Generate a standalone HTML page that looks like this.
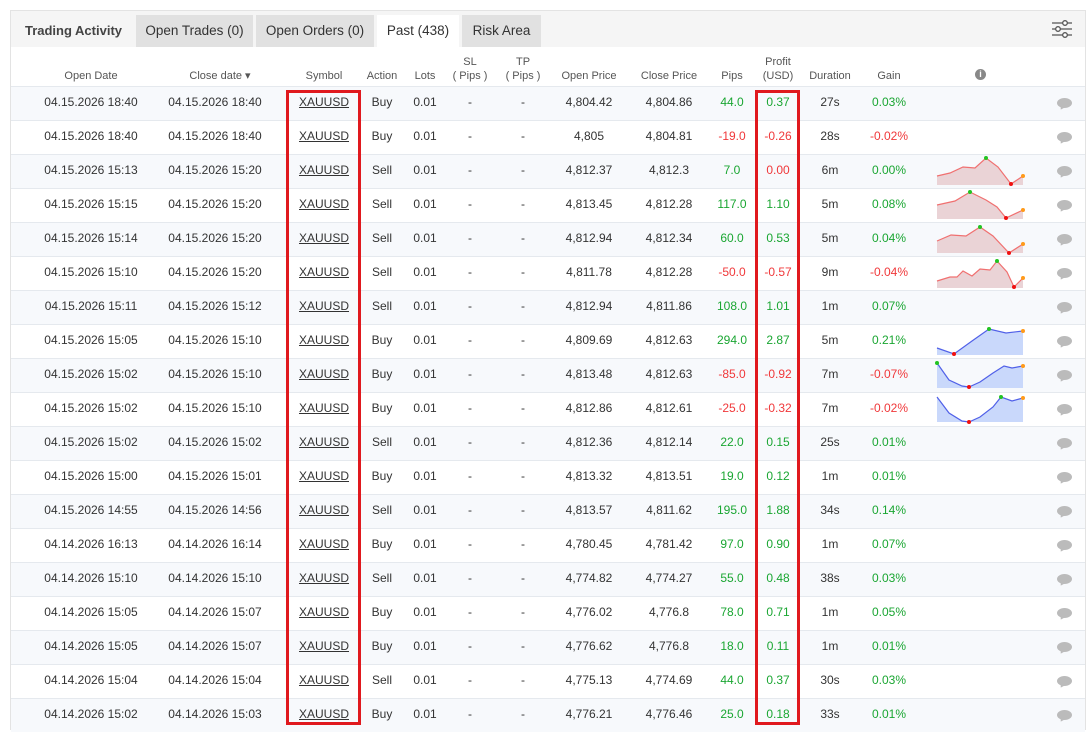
<!DOCTYPE html>
<html><head><meta charset="utf-8"><style>
*{margin:0;padding:0;box-sizing:border-box}
body{width:1086px;height:727px;background:#fff;font-family:"Liberation Sans",sans-serif;position:relative;overflow:hidden;color:#333}
.panel{position:absolute;left:10px;top:10px;width:1076px;height:720px;border:1px solid #e3e3e3;background:#fff}
.tabbar{position:absolute;left:11px;top:11px;width:1074px;height:36px;background:#f5f5f5}
.tab{position:absolute;top:15px;height:32px;line-height:31px;font-size:13.5px;text-align:center;color:#333}
.t{position:absolute;font-size:12px;text-align:center;transform:translateX(-50%);white-space:nowrap}
.h{position:absolute;font-size:11px;color:#555;text-align:center;transform:translateX(-50%);line-height:14px;white-space:nowrap}
.row{position:absolute;left:11px;width:1074px;height:34px;border-top:1px solid #e5e9ee}
.g{color:#1aa632}.r{color:#f0383a}
u{text-decoration:underline}
.box{position:absolute;border:3px solid #e0191e}
</style></head><body>
<div class="panel"></div>
<div class="tabbar"></div>
<div class="tab" style="left:11px;width:125px;font-weight:bold;color:#444;background:#f5f5f5;font-size:13px">Trading Activity</div>
<div class="tab" style="left:136px;width:117px;background:#e1e1e1">Open Trades (0)</div>
<div class="tab" style="left:256px;width:118px;background:#e1e1e1">Open Orders (0)</div>
<div class="tab" style="left:377px;width:82px;background:#fff">Past (438)</div>
<div class="tab" style="left:462px;width:79px;background:#e1e1e1">Risk Area</div>
<svg style="position:absolute;left:1051px;top:19px" width="22" height="20" viewBox="0 0 22 20" fill="none" stroke="#555" stroke-width="1.3"><line x1="1" y1="4" x2="21" y2="4"/><line x1="1" y1="10" x2="21" y2="10"/><line x1="1" y1="16" x2="21" y2="16"/><circle cx="14" cy="4" r="2.3" fill="#fff"/><circle cx="7" cy="10" r="2.3" fill="#fff"/><circle cx="14" cy="16" r="2.3" fill="#fff"/></svg>
<div id="c"></div>
<script>
var hd=[[91,'Open Date'],[220,'Close date ▾'],[324,'Symbol'],[382,'Action'],[425,'Lots'],[470,'SL<br>( Pips )'],[523,'TP<br>( Pips )'],[589,'Open Price'],[669,'Close Price'],[732,'Pips'],[778,'Profit<br>(USD)'],[830,'Duration'],[889,'Gain']];
var s='';
hd.forEach(function(h){var two=h[1].indexOf('<br>')>0;s+='<div class="h" style="left:'+h[0]+'px;top:'+(two?55:69)+'px">'+h[1]+'</div>';});
s+='<div style="position:absolute;left:975px;top:69px;width:11px;height:11px;border-radius:50%;background:#888;color:#fff;font-size:9px;font-weight:bold;text-align:center;line-height:11px">i</div>';
var d=[
['04.15.2026 18:40','04.15.2026 18:40','Buy','4,804.42','4,804.86','44.0','0.37','27s','0.03%','g','g'],
['04.15.2026 18:40','04.15.2026 18:40','Buy','4,805','4,804.81','-19.0','-0.26','28s','-0.02%','r','r'],
['04.15.2026 15:13','04.15.2026 15:20','Sell','4,812.37','4,812.3','7.0','0.00','6m','0.00%','g','r','g'],
['04.15.2026 15:15','04.15.2026 15:20','Sell','4,813.45','4,812.28','117.0','1.10','5m','0.08%','g','g'],
['04.15.2026 15:14','04.15.2026 15:20','Sell','4,812.94','4,812.34','60.0','0.53','5m','0.04%','g','g'],
['04.15.2026 15:10','04.15.2026 15:20','Sell','4,811.78','4,812.28','-50.0','-0.57','9m','-0.04%','r','r'],
['04.15.2026 15:11','04.15.2026 15:12','Sell','4,812.94','4,811.86','108.0','1.01','1m','0.07%','g','g'],
['04.15.2026 15:05','04.15.2026 15:10','Buy','4,809.69','4,812.63','294.0','2.87','5m','0.21%','g','g'],
['04.15.2026 15:02','04.15.2026 15:10','Buy','4,813.48','4,812.63','-85.0','-0.92','7m','-0.07%','r','r'],
['04.15.2026 15:02','04.15.2026 15:10','Buy','4,812.86','4,812.61','-25.0','-0.32','7m','-0.02%','r','r'],
['04.15.2026 15:02','04.15.2026 15:02','Sell','4,812.36','4,812.14','22.0','0.15','25s','0.01%','g','g'],
['04.15.2026 15:00','04.15.2026 15:01','Buy','4,813.32','4,813.51','19.0','0.12','1m','0.01%','g','g'],
['04.15.2026 14:55','04.15.2026 14:56','Sell','4,813.57','4,811.62','195.0','1.88','34s','0.14%','g','g'],
['04.14.2026 16:13','04.14.2026 16:14','Buy','4,780.45','4,781.42','97.0','0.90','1m','0.07%','g','g'],
['04.14.2026 15:10','04.14.2026 15:10','Sell','4,774.82','4,774.27','55.0','0.48','38s','0.03%','g','g'],
['04.14.2026 15:05','04.14.2026 15:07','Buy','4,776.02','4,776.8','78.0','0.71','1m','0.05%','g','g'],
['04.14.2026 15:05','04.14.2026 15:07','Buy','4,776.62','4,776.8','18.0','0.11','1m','0.01%','g','g'],
['04.14.2026 15:04','04.14.2026 15:04','Sell','4,775.13','4,774.69','44.0','0.37','30s','0.03%','g','g'],
['04.14.2026 15:02','04.14.2026 15:03','Buy','4,776.21','4,776.46','25.0','0.18','33s','0.01%','g','g']];
d.forEach(function(r,i){var top=86+i*34,y=top+9;
s+='<div class="row" style="top:'+top+'px;background:'+(i%2==0?'#f7f9fc':'#fff')+'"></div>';
function c(x,t,cl){s+='<div class="t '+(cl||'')+'" style="left:'+x+'px;top:'+y+'px">'+t+'</div>';}
c(91,r[0]);c(215,r[1]);c(324,'<u>XAUUSD</u>');c(382,r[2]);c(425,'0.01');c(470,'-');c(523,'-');c(589,r[3]);c(669,r[4]);
c(732,r[5],r[9]);c(778,r[6],r[10]);c(830,r[7]);c(889,r[8],r[11]||r[9]);
s+='<div style="position:absolute;left:1057px;top:'+(top+12)+'px;width:15px;height:10px;border-radius:50%;background:#bbb"></div><div style="position:absolute;left:1059px;top:'+(top+19)+'px;width:0;height:0;border-left:3px solid transparent;border-right:3px solid transparent;border-top:5px solid #bbb;transform:rotate(30deg)"></div>';
});
var sp=[
['red',185,[[937,176],[950,173],[963,167],[975,168],[986,158],[998,167],[1011,184],[1023,176]],4,6],
['red',219,[[937,205],[955,201],[970,192],[986,200],[997,207],[1006,218],[1023,210]],2,5],
['red',253,[[937,241],[951,235],[966,236],[980,227],[993,236],[1009,253],[1023,244]],3,5],
['red',288,[[937,281],[950,277],[957,277],[963,271],[972,276],[980,269],[990,270],[997,261],[1007,272],[1014,287],[1023,278]],7,9],
['blue',355,[[937,348],[954,354],[972,341],[989,329],[1006,333],[1023,331]],3,1],
['blue',388,[[937,363],[949,380],[962,386],[969,387],[980,382],[993,373],[1004,366],[1012,368],[1023,366]],0,3],
['blue',422,[[937,397],[949,413],[962,421],[969,422],[980,417],[993,407],[1001,397],[1012,401],[1023,398]],6,3]];
var g='<svg style="position:absolute;left:0;top:0" width="1086" height="727">';
sp.forEach(function(o){var ln=o[0]=='red'?'#f07070':'#5060e8',fl=o[0]=='red'?'#ead3d6':'#c9d8fb';
var p=o[2].map(function(q){return q.join(',')}).join(' ');
g+='<polygon points="937,'+o[1]+' '+p+' 1023,'+o[1]+'" fill="'+fl+'"/><polyline points="'+p+'" fill="none" stroke="'+ln+'" stroke-width="1.2"/>';
var mn=o[2][o[4]],mx=o[2][o[3]],l=o[2][o[2].length-1];
g+='<circle cx="'+mx[0]+'" cy="'+mx[1]+'" r="2" fill="#22c422"/><circle cx="'+mn[0]+'" cy="'+mn[1]+'" r="2" fill="#f01010"/><circle cx="'+l[0]+'" cy="'+l[1]+'" r="2" fill="#ff9a1a"/>';});
g+='</svg>';
s+=g;
s+='<div class="box" style="left:286px;top:90px;width:75px;height:635px"></div><div class="box" style="left:755px;top:90px;width:45px;height:635px"></div>';
document.getElementById('c').innerHTML=s;
</script>
</body></html>
